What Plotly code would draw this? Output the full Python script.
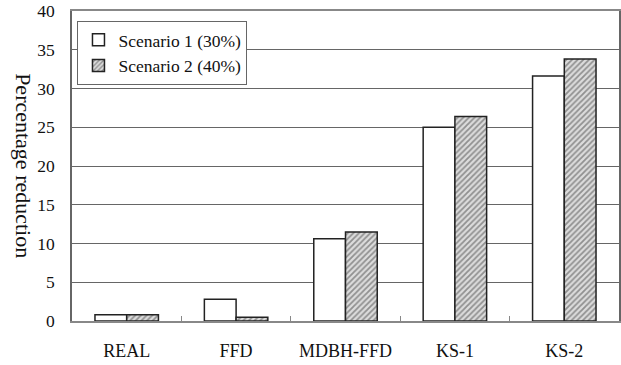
import plotly.graph_objects as go

categories = ["REAL", "FFD", "MDBH-FFD", "KS-1", "KS-2"]
scenario1 = [0.8, 2.8, 10.6, 25.0, 31.6]
scenario2 = [0.8, 0.5, 11.5, 26.4, 33.8]
names = ["Scenario 1 (30%)", "Scenario 2 (40%)"]
y_ticks = [0, 5, 10, 15, 20, 25, 30, 35, 40]

FONT = "Times New Roman, Liberation Serif, serif"

fig = go.Figure()
fig.add_trace(go.Bar(
    x=categories, y=scenario1, name=names[0],
    marker=dict(color="white", line=dict(color="#222", width=1.5)),
))
fig.add_trace(go.Bar(
    x=categories, y=scenario2, name=names[1],
    marker=dict(color="white", line=dict(color="#222", width=1.5),
                pattern=dict(shape="/", fgcolor="#444", bgcolor="#dcdcdc",
                             size=4, solidity=0.45)),
))

fig.update_layout(
    width=621, height=365,
    margin=dict(l=72, r=2, t=11, b=44, autoexpand=False),
    paper_bgcolor="white", plot_bgcolor="white",
    barmode="group", bargap=0.42, bargroupgap=0,
    font=dict(family=FONT, color="#111", size=17),
    legend=dict(x=0.01, y=0.968, xanchor="left", yanchor="top",
                bordercolor="#666", borderwidth=1, bgcolor="white",
                font=dict(family=FONT, size=17.5), itemwidth=30,
                tracegroupgap=2),
    showlegend=True,
)
fig.update_xaxes(
    automargin=False,
    showline=True, linecolor="#888", linewidth=1.5, mirror=True,
    ticks="inside", tickson="boundaries", ticklen=5, tickcolor="#888",
    ticklabelstandoff=13, tickfont=dict(family=FONT, size=18),
)
fig.update_yaxes(
    automargin=False,
    range=[0, 40], tickvals=y_ticks, showgrid=True, gridcolor="#666",
    gridwidth=1, showline=True, linecolor="#666", linewidth=1.5, mirror=True,
    ticks="", ticklabelstandoff=12, tickfont=dict(family=FONT, size=17.5),
    zeroline=False,
)
fig.add_annotation(
    text="Percentage reduction", textangle=90, showarrow=False,
    xref="paper", yref="paper", x=-0.088, y=0.5, xanchor="center",
    yanchor="middle", font=dict(family=FONT, size=22, color="#111"),
)
fig.write_html("out.html", post_script="document.body.style.margin='0';",
               config={"displayModeBar": False})
